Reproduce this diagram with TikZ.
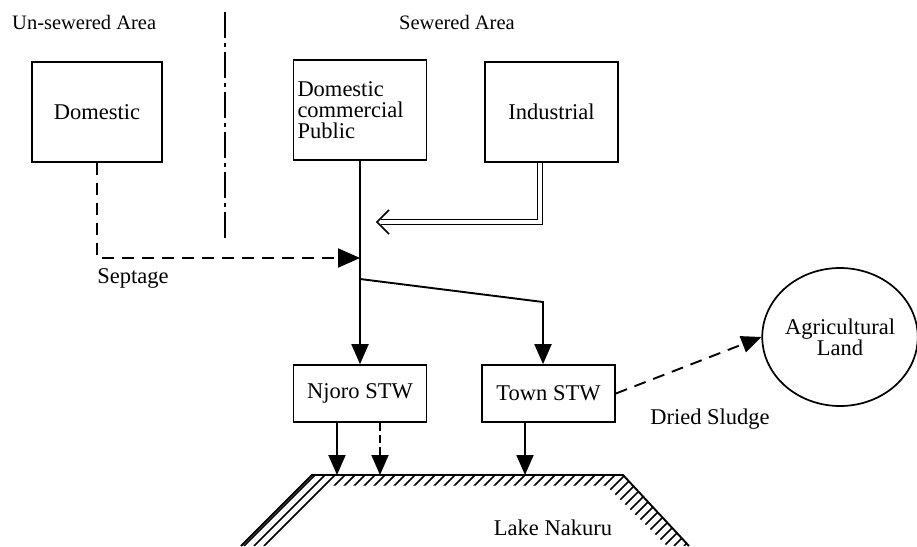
\documentclass[tikz,border=0pt]{standalone}
\usepackage{fontspec}
\setmainfont{Liberation Serif}
\usetikzlibrary{arrows.meta,shapes.geometric}
\begin{document}
\begin{tikzpicture}[x=1pt,y=-1pt,
  txt/.style={font=\fontsize{22.5}{21}\selectfont,inner sep=0pt},
  head/.style={font=\fontsize{20.5}{21}\selectfont,inner sep=0pt},
  box/.style={txt,draw,line width=1.7pt,minimum width=133pt,minimum height=100pt},
  ln/.style={line width=1.9pt},
  tipfill/.style={-{Triangle[length=20pt,width=17pt]}},
  longdash/.style={dash pattern=on 12pt off 8pt},
  hatch/.style={line width=1.6pt},
  ]
\useasboundingbox (0,0) rectangle (917,546);

% headings
\node[head,anchor=west] (hu) at (12,22) {Un-sewered Area};
\node[head] (hs) at (457,22) {Sewered Area};

% boxes
\node[box,minimum width=130pt] (dom) at (97,112) {Domestic};
\node[box,text width=125pt,align=left] (dcp) at (360,110) {Domestic\\commercial\\Public};
\node[box] (ind) at (551.5,112) {Industrial};
\node[box,minimum height=57pt] (njoro) at (360,393.5) {Njoro STW};
\node[box,minimum height=57pt] (town) at (548.5,393.5) {Town STW};
\node[txt,draw,ellipse,line width=1.7pt,minimum width=150pt,minimum height=138pt,align=center] (agri) at (840,337) {Agricultural\\Land};

% labels
\node[txt] (sep) at (133,278) {Septage};
\node[txt] (ds) at (710,419) {Dried Sludge};
\node[txt] (lake) at (553,528) {Lake Nakuru};

% dash-dot divider
\coordinate (dd1) at (225,12);
\coordinate (dd2) at (225,238);
\draw[line width=2pt,dash pattern=on 26pt off 5pt on 4pt off 5pt] (dd1) -- (dd2);

% septage
\coordinate (sj) at (360,258);
\draw[ln,longdash,-{Triangle[length=22pt,width=19pt]}] (dom.south) |- (sj);

% main flow
\draw[ln,tipfill] (dcp.south) -- (njoro.north);
\coordinate (sp) at (360,279);
\coordinate (bend) at (543,302);
\draw[ln,tipfill] (sp) -- (bend) -- (bend |- town.north);

% industrial double line
\coordinate (dc) at (540,222);
\coordinate (dt) at (377,222);
\draw[line width=1.4pt,double,double distance=3.5pt,shorten >=4pt] (dc |- ind.south) -- (dc) -- (dt);
\draw[line width=1.7pt] (dt) ++(12,-12) -- (dt) -- ++(12,12);

% dried sludge
\draw[ln,longdash,tipfill] (town.east) -- (agri.west);

% lake
\coordinate (l1) at (241,546);
\coordinate (l2) at (312,475);
\coordinate (l3) at (623,475);
\coordinate (l4) at (689,546);
\begin{scope}
\clip (241,546) -- (312,475) -- (623,475) -- (689,546) -- (667,546) -- (606,485.5) -- (333,485.5) -- (271,546) -- cycle;
\foreach \c in {780,790,...,1250} \draw[hatch] (\c-546,546) -- (\c-460,460);
\end{scope}
\draw[ln] (l1) -- (l2) -- (l3) -- (l4);

% outflows to lake
\coordinate (o1) at (337,475);
\coordinate (o2) at (380,475);
\coordinate (o3) at (525,475);
\draw[ln,tipfill] (o1 |- njoro.south) -- (o1);
\draw[ln,dash pattern=on 8pt off 4pt,tipfill] (o2 |- njoro.south) -- (o2);
\draw[ln,tipfill] (o3 |- town.south) -- (o3);
\end{tikzpicture}
\end{document}
